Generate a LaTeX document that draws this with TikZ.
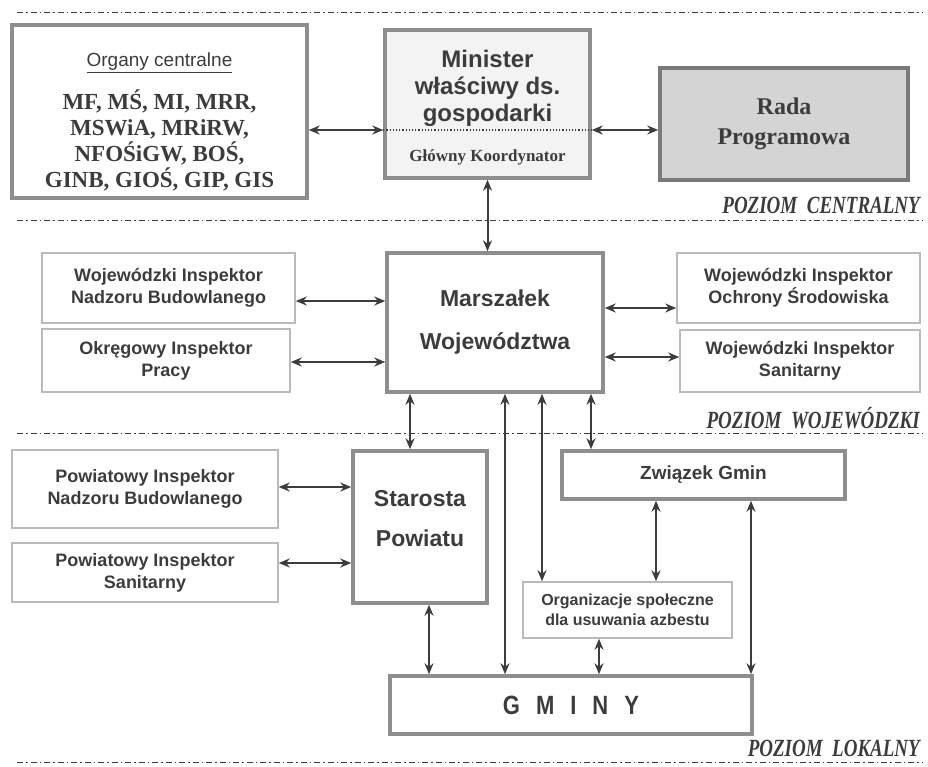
\documentclass[tikz,border=0pt]{standalone}
\usepackage{fontspec}
\setmainfont{Liberation Serif}
\setsansfont{Liberation Sans}
\usetikzlibrary{arrows.meta}
\definecolor{ink}{HTML}{3C3C3C}
\definecolor{frame}{HTML}{8E8E8E}
\definecolor{light}{HTML}{BABABA}
\definecolor{radaframe}{HTML}{7A7A7A}
\definecolor{radafill}{HTML}{D4D4D4}
\definecolor{minfill}{HTML}{F3F3F3}
\begin{document}
\begin{tikzpicture}[x=1pt,y=-1pt,
	bigbox/.style={draw=frame, line width=3.5pt, inner sep=0pt, text=ink, align=center},
	smallbox/.style={draw=light, line width=1.5pt, inner sep=0pt, text=ink, align=center,
		font=\sffamily\bfseries\fontsize{18}{22}\selectfont},
	link/.style={ink, line width=2pt, {Stealth[length=11pt,width=9pt]}-{Stealth[length=11pt,width=9pt]}},
	level/.style={ink, line width=1pt, dash pattern=on 6pt off 3pt on 1.5pt off 3pt},
	levtxt/.style={anchor=base east, text=ink, inner sep=0pt, font=\bfseries\itshape\fontsize{19}{22}\selectfont}]
	\useasboundingbox (0,0) rectangle (928,766);
	%level lines
		\draw[level] (17,12) -- (922,12);
		\draw[level] (17,220) -- (922,220);
		\draw[level] (17,433) -- (922,433);
		\draw[level] (17,762) -- (922,762);
	%level labels
		\node[levtxt] (lcen) at (920,213) {\scalebox{1}[1.3]{POZIOM\ \ CENTRALNY}};
		\node[levtxt] (lwoj) at (920,428) {\scalebox{1}[1.3]{POZIOM\ \ WOJEWÓDZKI}};
		\node[levtxt] (llok) at (920,756) {\scalebox{1}[1.3]{POZIOM\ \ LOKALNY}};
	%central level
		\node[bigbox, minimum width=295pt, minimum height=173pt] (org) at (159.5,111.5) {};
		\node[text=ink, font=\sffamily\fontsize{19}{22}\selectfont] (orgtit) at (159.5,63) {\underline{Organy centralne}};
		\node[text=ink, align=center, font=\bfseries\fontsize{23}{26}\selectfont] (orglist) at (159.5,140)
			{MF, MŚ, MI, MRR,\\MSWiA, MRiRW,\\NFOŚiGW, BOŚ,\\GINB, GIOŚ, GIP, GIS};
		\node[bigbox, fill=minfill, minimum width=205pt, minimum height=148pt] (min) at (487.5,104) {};
		\node[text=ink, align=center, font=\sffamily\bfseries\fontsize{24}{27}\selectfont] (mintxt) at (487.5,88)
			{Minister\\właściwy ds.\\gospodarki};
		\draw[ink, dotted, line width=1.2pt] ([yshift=-26pt]min.west) -- ([yshift=-26pt]min.east);
		\node[text=ink, font=\bfseries\fontsize{17}{20}\selectfont] (koord) at (487.5,157) {Główny Koordynator};
		\node[bigbox, draw=radaframe, fill=radafill, minimum width=248pt, minimum height=112pt,
			font=\bfseries\fontsize{24}{30}\selectfont] (rada) at (784,124) {Rada\\Programowa};
		\draw[link] ([yshift=-18.5pt]org.east) -- ([yshift=-18.5pt]org.east -| min.west);
		\draw[link] ([yshift=-26pt]min.east) -- ([yshift=-26pt]min.east -| rada.west);
	%voivodeship level
		\node[bigbox, minimum width=216pt, minimum height=139pt,
			font=\sffamily\bfseries\fontsize{23}{43}\selectfont] (mar) at (495,322.5) {Marszałek\\Województwa};
		\node[smallbox, minimum width=253pt, minimum height=70pt] (winb) at (168.5,288)
			{Wojewódzki Inspektor\\Nadzoru Budowlanego};
		\node[smallbox, minimum width=248pt, minimum height=63pt] (oip) at (166,360.5)
			{Okręgowy Inspektor\\Pracy};
		\node[smallbox, minimum width=243pt, minimum height=70pt] (wios) at (798.5,288)
			{Wojewódzki Inspektor\\Ochrony Środowiska};
		\node[smallbox, minimum width=240pt, minimum height=62pt] (wis) at (800,361)
			{Wojewódzki Inspektor\\Sanitarny};
		\draw[link] (min.south) -- (min.south |- mar.north);
		\draw[link] ([yshift=-13pt]winb.east) -- ([yshift=-13pt]winb.east -| mar.west);
		\draw[link] ([yshift=-1.5pt]oip.east) -- ([yshift=-1.5pt]oip.east -| mar.west);
		\draw[link] ([yshift=14.5pt]mar.east) -- ([yshift=14.5pt]mar.east -| wios.west);
		\draw[link] ([yshift=-34.5pt]mar.east) -- ([yshift=-34.5pt]mar.east -| wis.west);
	%local level
		\node[bigbox, minimum width=134pt, minimum height=152pt] (sta) at (420,527) {};
		\node[text=ink, align=center, font=\sffamily\bfseries\fontsize{23}{40}\selectfont] (statxt) at (420,519)
			{Starosta\\Powiatu};
		\node[smallbox, minimum width=266pt, minimum height=78pt] (pinb) at (145,489)
			{Powiatowy Inspektor\\Nadzoru Budowlanego};
		\node[smallbox, minimum width=266pt, minimum height=59pt] (pis) at (145,572.5)
			{Powiatowy Inspektor\\Sanitarny};
		\node[bigbox, minimum width=283pt, minimum height=48pt,
			font=\sffamily\bfseries\fontsize{19}{22}\selectfont] (zg) at (703.5,475) {Związek Gmin};
		\node[smallbox, minimum width=209pt, minimum height=56pt,
			font=\sffamily\bfseries\fontsize{16}{20}\selectfont] (spol) at (627.5,610)
			{Organizacje społeczne\\dla usuwania azbestu};
		\node[bigbox, minimum width=362pt, minimum height=58pt,
			font=\sffamily\bfseries\fontsize{22}{26}\selectfont] (gm) at (571,705)
			{\scalebox{1}[1.2]{G\hspace{16pt}M\hspace{16pt}I\hspace{16pt}N\hspace{16pt}Y}};
		\draw[link] ([xshift=-85pt]mar.south) -- ([xshift=-85pt]mar.south |- sta.north);
		\draw[link] ([xshift=10pt]mar.south) -- ([xshift=10pt]mar.south |- gm.north);
		\draw[link] ([xshift=47pt]mar.south) -- ([xshift=47pt]mar.south |- spol.north);
		\draw[link] ([xshift=96pt]mar.south) -- ([xshift=96pt]mar.south |- zg.north);
		\draw[link] ([yshift=2pt]pinb.east) -- ([yshift=2pt]pinb.east -| sta.west);
		\draw[link] ([yshift=9.5pt]pis.east) -- ([yshift=9.5pt]pis.east -| sta.west);
		\draw[link] ([xshift=9pt]sta.south) -- ([xshift=9pt]sta.south |- gm.north);
		\draw[link] ([xshift=-47.5pt]zg.south) -- ([xshift=-47.5pt]zg.south |- spol.north);
		\draw[link] ([xshift=47.5pt]zg.south) -- ([xshift=47.5pt]zg.south |- gm.north);
		\draw[link] ([xshift=-28.5pt]spol.south) -- ([xshift=-28.5pt]spol.south |- gm.north);
\end{tikzpicture}
\end{document}
